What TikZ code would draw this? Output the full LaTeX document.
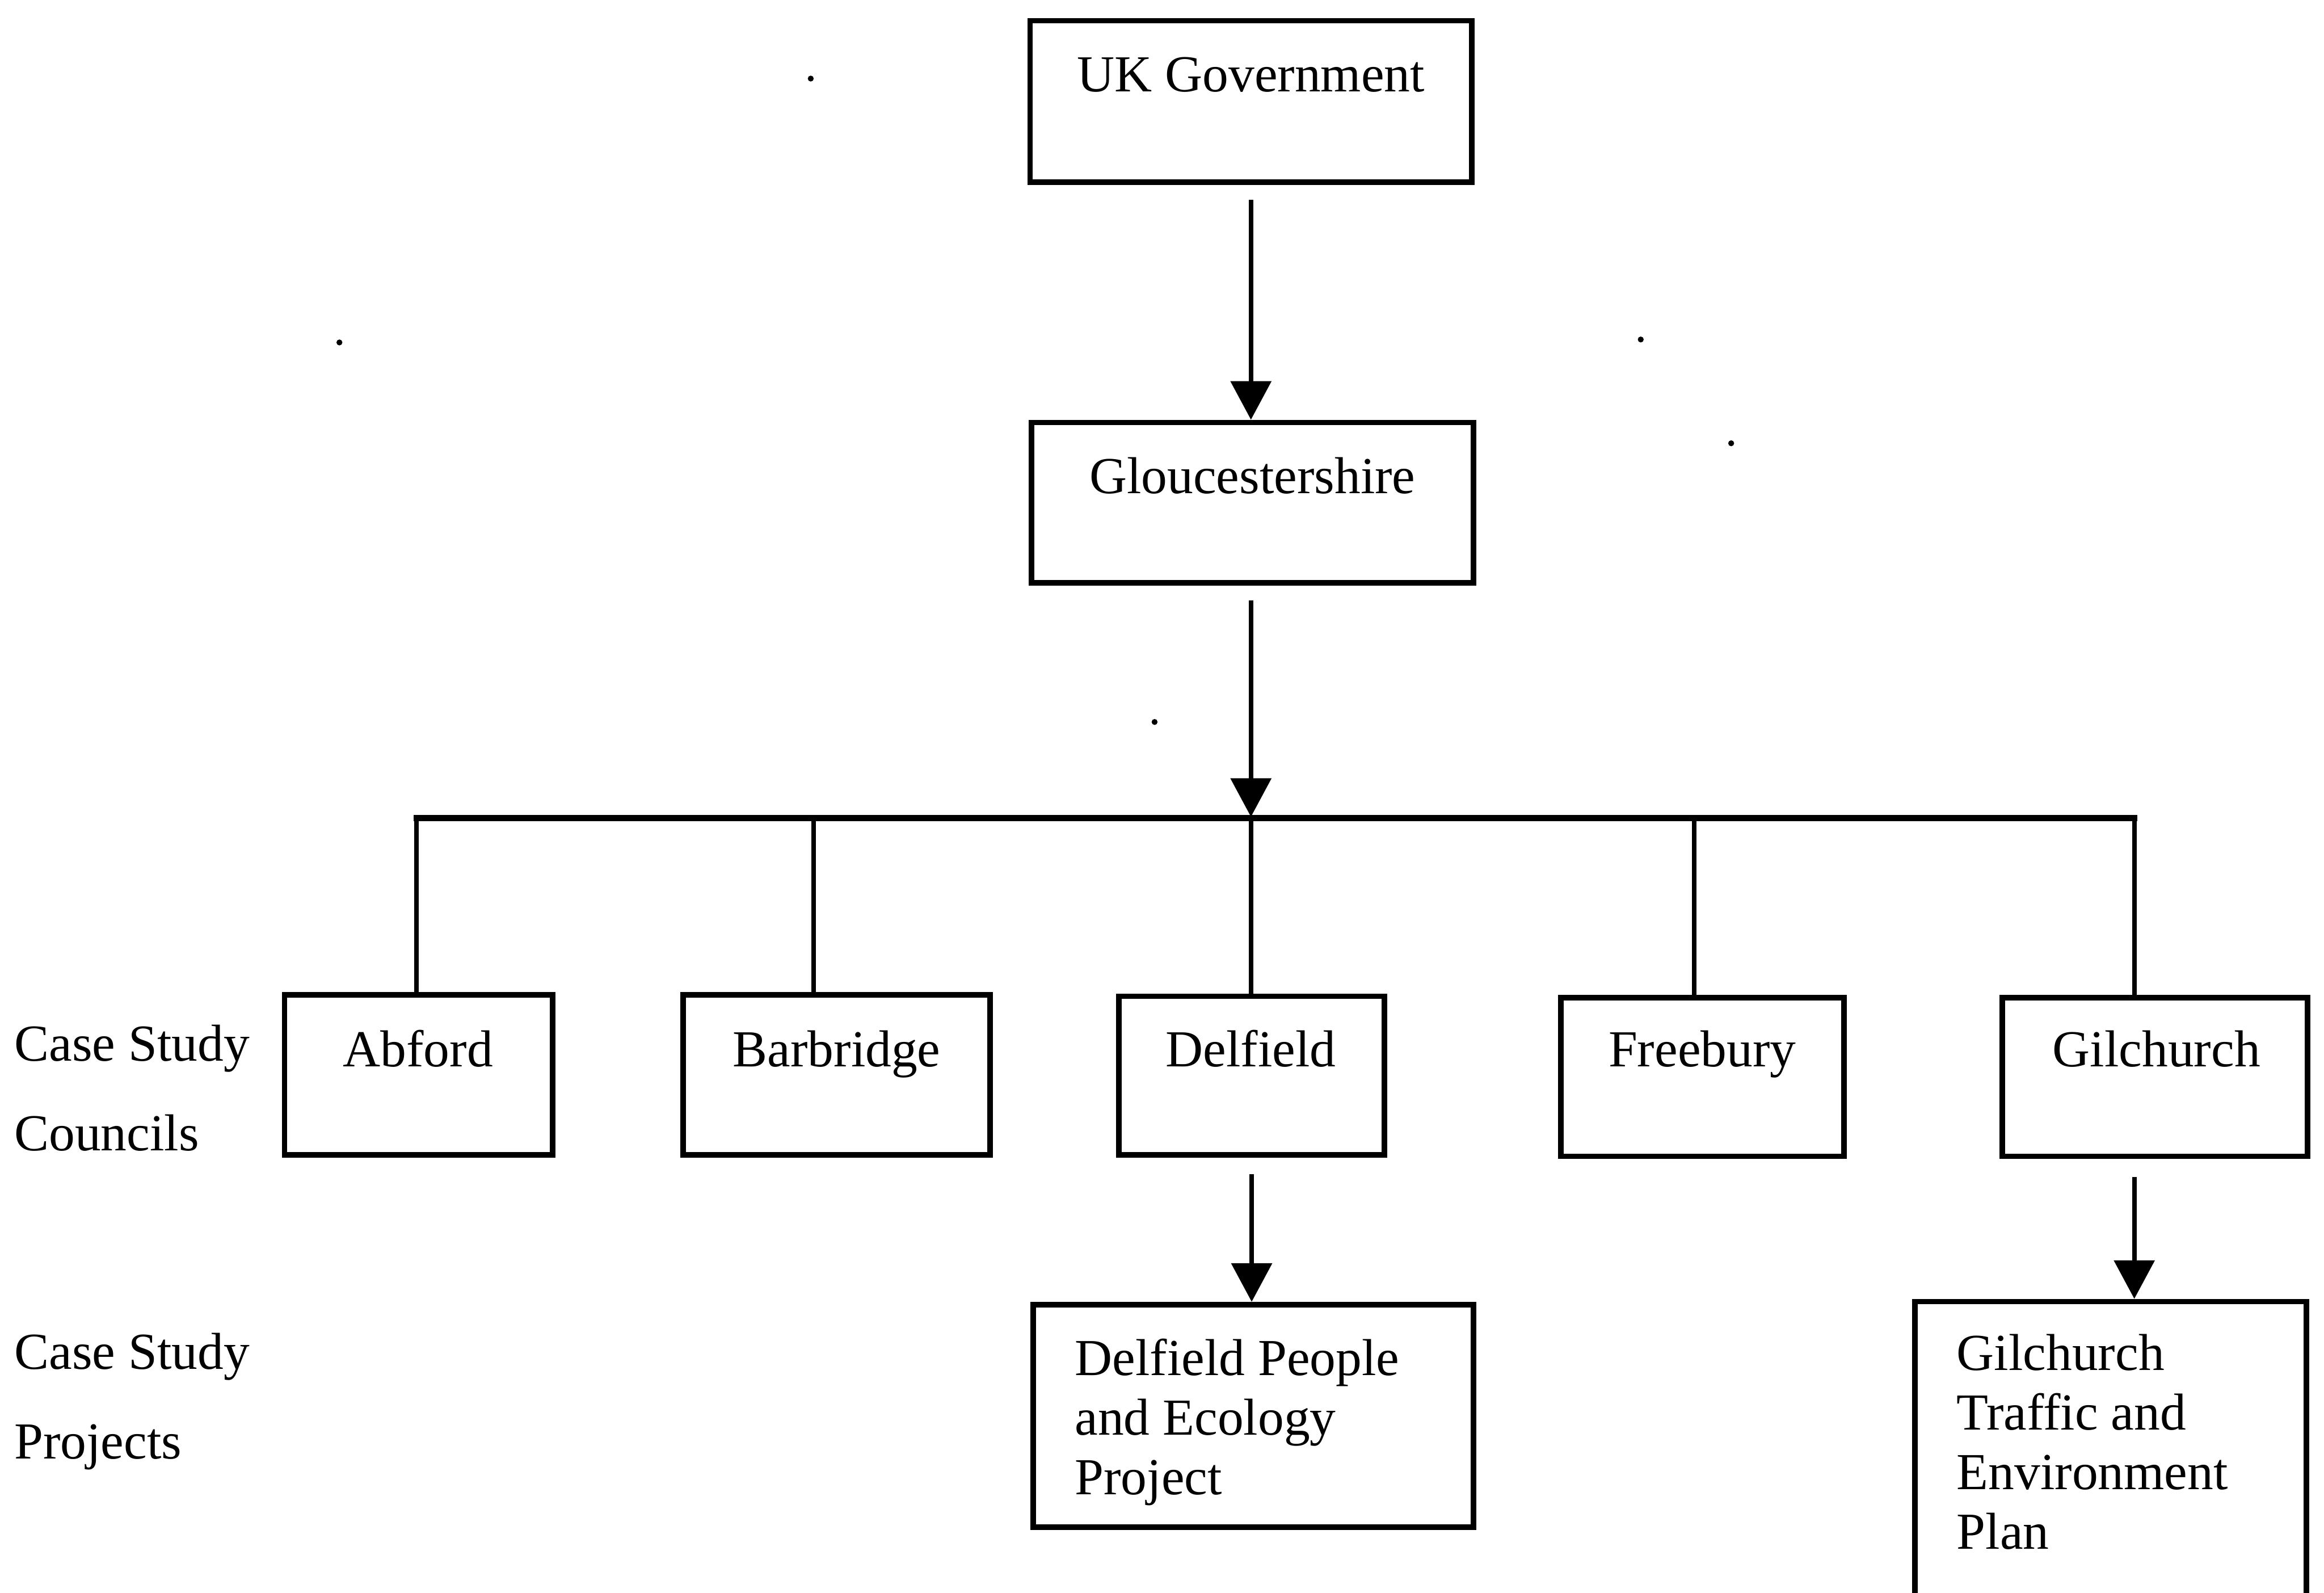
\documentclass[tikz,border=0pt]{standalone}
\usepackage{fontspec}
\setmainfont{Liberation Serif}
\usetikzlibrary{arrows.meta,fit}
\begin{document}
\begin{tikzpicture}[x=0.03cm,y=-0.03cm,
  box/.style={draw, line width=3.2pt, inner sep=0pt, rectangle},
  lbl/.style={inner sep=0pt, font=\fontsize{29.9}{34.3}\selectfont},
  side/.style={inner sep=0pt, align=left, anchor=base west,
               font=\fontsize{29.9}{51.6}\selectfont},
  link/.style={line width=2.7pt},
  bar/.style={line width=3.6pt, line cap=rect},
  flow/.style={line width=2.7pt, -{Triangle[width=0.81cm,length=0.78cm]}}]

\useasboundingbox (0,0) rectangle (1568,1074.5);
\clip (0,0) rectangle (1568,1074.5);

% top of the hierarchy
\node[box, fit={(695,14) (993,123)}] (gov) {};
\node[lbl, anchor=base] (govtxt) at (844,62) {UK Government};

\node[box, fit={(696,285) (994,393)}] (glos) {};
\node[lbl, anchor=base] (glostxt) at (845,333) {Gloucestershire};

% councils
\node[box, fit={(192,671) (373,779)}] (abf) {};
\node[lbl, anchor=base] (abftxt) at (282,719.5) {Abford};

\node[box, fit={(461,671) (668,779)}] (bar) {};
\node[lbl, anchor=base] (bartxt) at (564.5,719.5) {Barbridge};

\node[box, fit={(755,672) (934,779)}] (del) {};
\node[lbl, anchor=base] (deltxt) at (844,719.5) {Delfield};

\node[box, fit={(1053,673) (1244,780)}] (fre) {};
\node[lbl, anchor=base] (fretxt) at (1148.5,719.5) {Freebury};

\node[box, fit={(1351,673) (1557,780)}] (gil) {};
\node[lbl, anchor=base] (giltxt) at (1455,719.5) {Gilchurch};

% projects (base anchor sits on the last line)
\node[box, fit={(697,880) (994,1030)}] (dproj) {};
\node[lbl, anchor=base west, align=left] (dprojtxt) at (725,1008)
  {Delfield People\\and Ecology\\Project};

\node[box, fit={(1292,878) (1556,1110)}] (gproj) {};
\node[lbl, anchor=base west, align=left] (gprojtxt) at (1320,1045)
  {Gilchurch\\Traffic and\\Environment\\Plan};

% row captions
\node[side] (capc) at (9.5,776) {Case Study\\Councils};
\node[side] (capp) at (9.5,984) {Case Study\\Projects};

% connectors
\coordinate (hub) at (844,551);
\coordinate (jA) at (281,552);
\coordinate (jB) at (549,552);
\coordinate (jD) at (844,552);
\coordinate (jF) at (1143,552);
\coordinate (jG) at (1440,552);

\draw[flow, shorten <=0.3cm] (gov.south) -- (gov.south |- glos.north);
\draw[flow, shorten <=0.3cm] (hub |- glos.south) -- (hub);
\draw[bar] (jA) -- (jG);
\draw[link] (jA) -- (jA |- abf.north);
\draw[link] (jB) -- (jB |- bar.north);
\draw[link] (jD) -- (jD |- del.north);
\draw[link] (jF) -- (jF |- fre.north);
\draw[link] (jG) -- (jG |- gil.north);
\draw[flow, shorten <=0.33cm] (del.south) -- (del.south |- dproj.north);
\draw[flow, shorten <=0.36cm] (jG |- gil.south) -- (jG |- gproj.north);

% specks
\foreach \p in {(547,53),(229,231),(1107,229),(1168,299),(779,487)}
  \fill \p circle[radius=0.06cm];
\end{tikzpicture}
\end{document}
